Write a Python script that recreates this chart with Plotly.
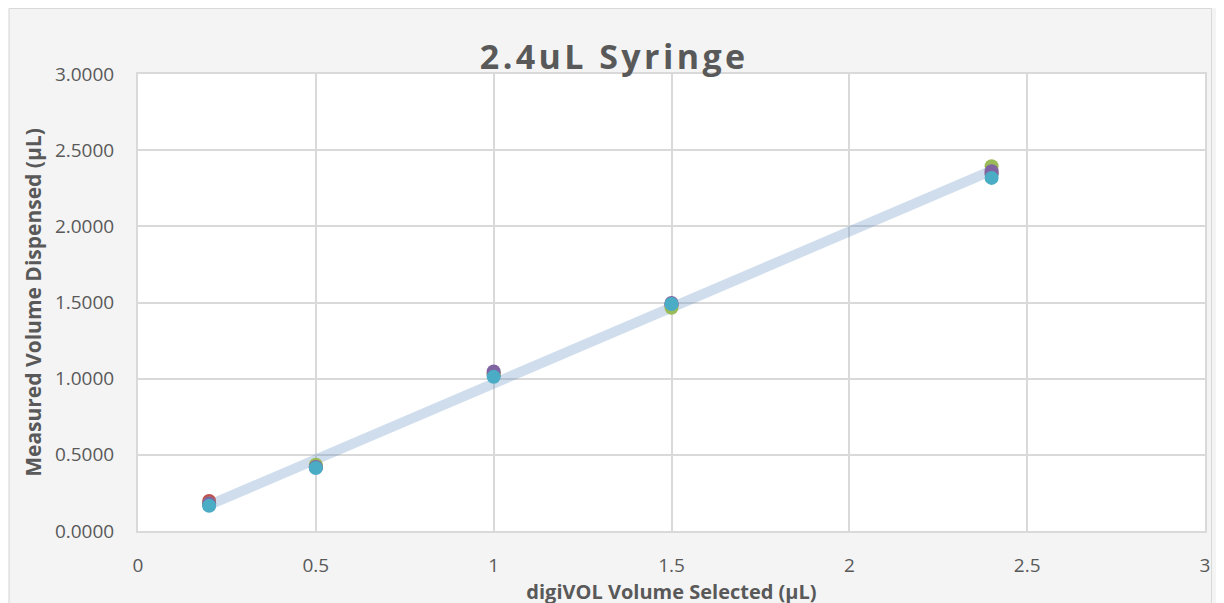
import numpy as np
import plotly.graph_objects as go

selected = [0.2, 0.5, 1.0, 1.5, 2.4]
series_names = ["Trial 1", "Trial 2", "Trial 3", "Trial 4", "Trial 5"]
trial1 = [0.172, 0.420, 1.020, 1.490, 2.340]
trial2 = [0.197, 0.420, 1.030, 1.480, 2.350]
trial3 = [0.180, 0.435, 1.030, 1.465, 2.395]
trial4 = [0.180, 0.420, 1.047, 1.497, 2.362]
trial5 = [0.165, 0.413, 1.012, 1.490, 2.318]
colors = ["#4F81BD", "#C0504D", "#9BBB59", "#8064A2", "#4BACC6"]

x_ticks = [0, 0.5, 1, 1.5, 2, 2.5, 3]
x_tick_text = ["0", "0.5", "1", "1.5", "2", "2.5", "3"]
y_ticks = [0, 0.5, 1.0, 1.5, 2.0, 2.5, 3.0]
y_tick_text = ["0.0000", "0.5000", "1.0000", "1.5000", "2.0000", "2.5000", "3.0000"]

FONT = "Open Sans, Liberation Sans, sans-serif"
GREY = "#595959"

fig = go.Figure()

# linear trendline fitted to first series
slope, intercept = np.polyfit(selected, trial1, 1)
tx = [min(selected), max(selected)]
ty = [slope * v + intercept for v in tx]
fig.add_trace(go.Scatter(x=tx, y=ty, mode="lines",
                         line=dict(color="rgba(79,129,189,0.27)", width=10),
                         showlegend=False, hoverinfo="skip"))

for name, vals, c in zip(series_names, [trial1, trial2, trial3, trial4, trial5], colors):
    fig.add_trace(go.Scatter(x=selected, y=vals, mode="markers", name=name,
                             marker=dict(color=c, size=14, line=dict(width=0)),
                             showlegend=False))

# figure is placed at (8, 8) on the page by the default body margin
W, H = 1209, 600
L, R, T, B = 130, 7, 66, 77

fig.add_shape(type="rect", xref="paper", yref="paper",
              x0=-L / (W - L - R) + 0.0005, x1=1 + (R - 0.5) / (W - L - R),
              y0=-B / (H - T - B) - 0.01, y1=1 + (T - 0.5) / (H - T - B),
              line=dict(color="#D9D9D9", width=1), layer="below")

axis_common = dict(showgrid=True, gridcolor="#D9D9D9", gridwidth=2,
                   zeroline=False, showline=True, linecolor="#D9D9D9", linewidth=2,
                   mirror=True, ticks="",
                   tickfont=dict(family=FONT, size=19, color=GREY))

title_text = "<b>" + "\u200a".join("2.4uL Syringe") + "</b>"

fig.update_layout(
    width=W, height=H,
    margin=dict(l=L, r=R, t=T, b=B),
    paper_bgcolor="#F4F4F4",
    plot_bgcolor="#FFFFFF",
    title=dict(text=title_text, x=0.5, xanchor="center",
               y=1 - 49 / H, yanchor="middle",
               font=dict(family=FONT, size=34, color=GREY)),
    xaxis=dict(range=[0, 3], tickvals=x_ticks, ticktext=x_tick_text,
               ticklabelstandoff=16,
               title=dict(text="<b>digiVOL Volume Selected (µL)</b>", standoff=6,
                          font=dict(family=FONT, size=20, color=GREY)),
               **axis_common),
    yaxis=dict(range=[0, 3], tickvals=y_ticks, ticktext=y_tick_text,
               ticklabelstandoff=18,
               title=dict(text="<b>Measured Volume Dispensed (µL)</b>", standoff=8,
                          font=dict(family=FONT, size=21, color=GREY)),
               **axis_common),
    showlegend=False,
)

fig.write_html("out.html")
